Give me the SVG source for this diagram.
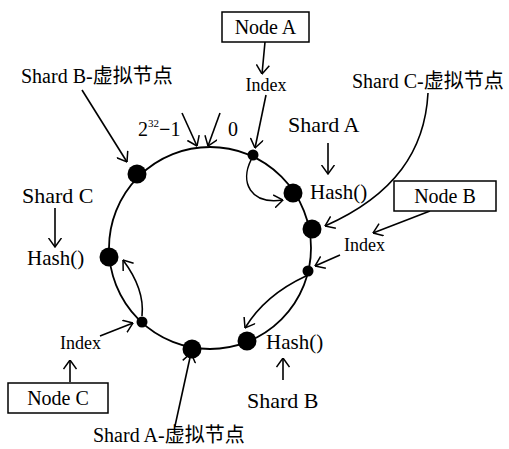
<svg xmlns="http://www.w3.org/2000/svg" width="509" height="449" viewBox="0 0 509 449">
<style>
text{font-family:"Liberation Serif","Noto Sans CJK SC",serif;fill:#000}
.lbl{font-size:20px}
.big{font-size:22px}
.idx{font-size:18px}
.hash{font-size:21px}
.box{fill:#fff;stroke:#000;stroke-width:1.5}
.c{fill:none;stroke:#000;stroke-width:1.6;marker-end:url(#ah)}
.ring{fill:none;stroke:#000;stroke-width:1.8}
.dot{fill:#000}
</style>
<defs>
<marker id="ah" viewBox="0 0 10 14" markerWidth="10" markerHeight="14" refX="9.5" refY="7" orient="auto" markerUnits="userSpaceOnUse">
<path d="M0.5,0.5 L9.5,7 L0.5,13.5" fill="none" stroke="#000" stroke-width="1.5"/>
</marker>
</defs>
<circle id="ring" class="ring" cx="210" cy="248" r="101"/>
<g id="connectors">
<line class="c" x1="265" y1="42" x2="262" y2="74"/>
<line class="c" x1="266" y1="95" x2="255" y2="148"/>
<path class="c" d="M251,160 C240,182 250,205 283,200"/>
<line class="c" x1="328" y1="143" x2="328" y2="174"/>
<path class="c" d="M428,93 C425,150 395,195 325,226"/>
<line class="c" x1="430" y1="211" x2="373" y2="233"/>
<line class="c" x1="340" y1="255" x2="315" y2="266"/>
<path class="c" d="M306,276 Q265,295 245,328"/>
<line class="c" x1="283" y1="380" x2="283" y2="358"/>
<line class="c" x1="175" y1="426" x2="191" y2="353"/>
<line class="c" x1="70" y1="382" x2="70" y2="360"/>
<line class="c" x1="100" y1="336" x2="133" y2="323"/>
<path class="c" d="M142,316 C144,298 138,280 123,260"/>
<line class="c" x1="55" y1="208" x2="55" y2="247"/>
<line class="c" x1="82" y1="90" x2="127" y2="162"/>
<line class="c" x1="182" y1="113" x2="197" y2="146"/>
<line class="c" x1="220" y1="113" x2="208" y2="146"/>
</g>
<g id="dots">
<circle class="dot" cx="137" cy="174" r="9.5"/>
<circle class="dot" cx="109" cy="257" r="9.5"/>
<circle class="dot" cx="192" cy="349" r="9.5"/>
<circle class="dot" cx="247" cy="341" r="9.5"/>
<circle class="dot" cx="312" cy="229" r="9.5"/>
<circle class="dot" cx="293" cy="193" r="9.5"/>
<circle class="dot" cx="253" cy="155" r="5.5"/>
<circle class="dot" cx="308" cy="271" r="5.5"/>
<circle class="dot" cx="142" cy="322" r="5.5"/>
</g>
<g id="nodeA"><rect class="box" x="222" y="12" width="87" height="30"/><text class="lbl" x="265.5" y="34" text-anchor="middle">Node A</text></g>
<g id="nodeB"><rect class="box" x="394" y="181" width="102" height="30"/><text class="lbl" x="445" y="203" text-anchor="middle">Node B</text></g>
<g id="nodeC"><rect class="box" x="8" y="383" width="100" height="30"/><text class="lbl" x="58" y="405" text-anchor="middle">Node C</text></g>
<g id="labels">
<text class="idx" x="266" y="91" text-anchor="middle">Index</text>
<text class="idx" x="344" y="251">Index</text>
<text class="idx" x="60" y="349">Index</text>
<text class="lbl" x="138" y="136">2<tspan font-size="11" dy="-9">32</tspan><tspan dy="9" font-weight="bold">−</tspan><tspan>1</tspan></text>
<text class="lbl" x="228" y="136">0</text>
<text class="big" x="288" y="132">Shard A</text>
<text class="big" x="247" y="408">Shard B</text>
<text class="big" x="22" y="203">Shard C</text>
<text class="hash" x="310" y="199">Hash()</text>
<text class="hash" x="266" y="349">Hash()</text>
<text class="hash" x="27" y="265">Hash()</text>
<text class="lbl" x="21" y="83">Shard B-虚拟节点</text>
<text class="lbl" x="352" y="88">Shard C-虚拟节点</text>
<text class="lbl" x="93" y="442">Shard A-虚拟节点</text>
</g>
</svg>
